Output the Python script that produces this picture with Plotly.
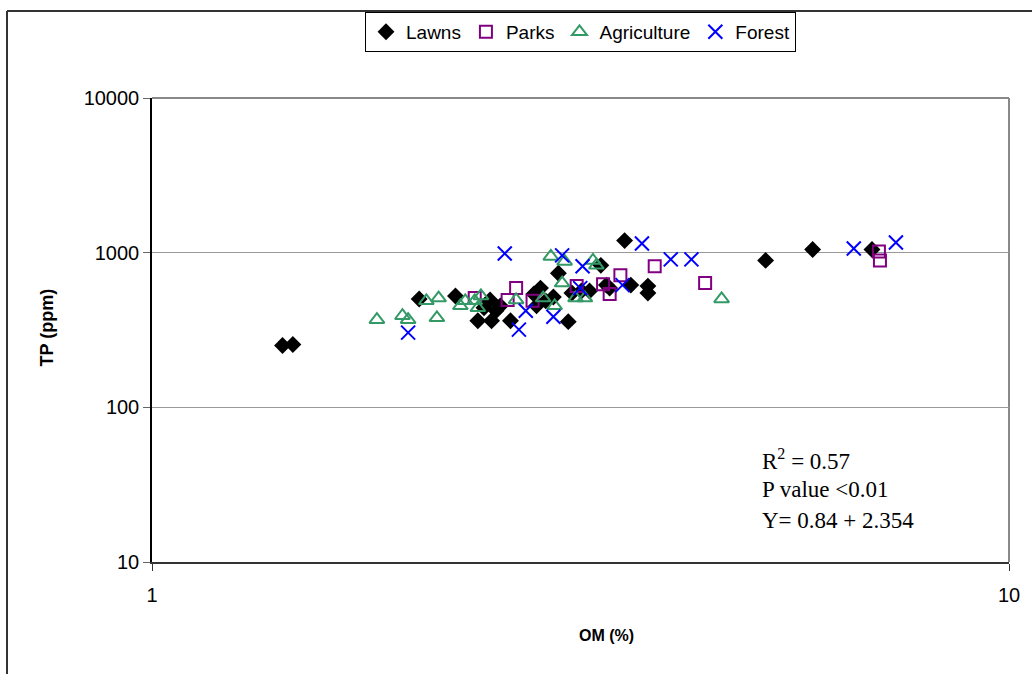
import plotly.graph_objects as go

# ---- data (OM %, TP ppm) ----
lawns_om = [1.42, 1.46, 2.05, 2.26, 2.40, 2.44, 2.48, 2.49, 2.52, 2.55, 2.62, 2.79, 2.84, 2.81,
            2.88, 2.94, 2.98, 3.06, 3.09, 3.17, 3.24, 3.34, 3.39, 3.42, 3.56, 3.62, 3.79, 3.79,
            5.20, 5.90, 6.92]
lawns_tp = [251, 255, 502, 525, 363, 440, 495, 363, 421, 453, 363, 540, 590, 453,
            488, 517, 736, 358, 548, 565, 565, 828, 617, 590, 1197, 617, 608, 548,
            891, 1048, 1048]

parks_om = [2.38, 2.66, 2.60, 2.78, 3.13, 3.36, 3.42, 3.52, 3.86, 4.42, 7.05, 7.07]
parks_tp = [509, 590, 495, 488, 608, 626, 540, 715, 816, 636, 1018, 891]

agri_om = [1.83, 1.96, 1.99, 2.09, 2.16, 2.15, 2.29, 2.32, 2.38, 2.40, 2.42, 2.66, 2.86, 2.95,
           2.92, 3.03, 3.01, 3.12, 3.20, 3.27, 3.30, 4.62]
agri_tp = [369, 391, 369, 488, 509, 379, 453, 488, 488, 440, 525, 495, 509, 453,
           946, 878, 636, 509, 509, 891, 828, 502]

forest_om = [1.99, 2.58, 2.68, 2.73, 2.94, 3.01, 3.18, 3.16, 3.54, 3.73, 4.03, 4.26, 6.59, 7.38]
forest_tp = [304, 988, 318, 421, 385, 960, 816, 590, 617, 1145, 905, 905, 1064, 1162]

x_ticks = [1, 10]
y_ticks = [10, 100, 1000, 10000]
x_title = "<b>OM (%)</b>"
y_title = "<b>TP (ppm)</b>"
stats_lines = ["R<sup>2</sup> = 0.57", "P value &lt;0.01", "Y= 0.84 + 2.354"]

fig = go.Figure()
fig.add_trace(go.Scatter(x=lawns_om, y=lawns_tp, mode="markers", name="Lawns",
                         marker=dict(symbol="diamond", size=13, color="black",
                                     line=dict(width=0))))
fig.add_trace(go.Scatter(x=parks_om, y=parks_tp, mode="markers", name="Parks",
                         marker=dict(symbol="square-open", size=12, color="#800080",
                                     line=dict(width=2, color="#800080"))))
fig.add_trace(go.Scatter(x=agri_om, y=agri_tp, mode="markers", name="Agriculture",
                         marker=dict(symbol="triangle-up-open", size=13, color="#339966",
                                     line=dict(width=2, color="#339966"))))
fig.add_trace(go.Scatter(x=forest_om, y=forest_tp, mode="markers", name="Forest",
                         marker=dict(symbol="x-thin-open", size=14, color="#0000FF",
                                     line=dict(width=2, color="#0000FF"))))

L, R, T, B = 152, 1009, 93, 562
W, H = 1032, 674

def px_x(p):
    return (p - L) / (R - L)

def px_y(p):
    return (B - p) / (B - T)

fig.update_layout(
    width=W, height=H,
    margin=dict(l=L, r=W - R, t=T, b=H - B, pad=0),
    paper_bgcolor="white", plot_bgcolor="white",
    font=dict(family="Liberation Sans, Arial, sans-serif", size=20, color="black"),
    showlegend=True,
    legend=dict(orientation="h", x=0.5, xanchor="center", y=px_y(6), yanchor="top",
                bordercolor="black", borderwidth=1, bgcolor="white",
                font=dict(size=19), itemwidth=30, tracegroupgap=0),
    xaxis=dict(type="log", range=[0, 1], tickvals=x_ticks, ticktext=[str(v) for v in x_ticks],
               showgrid=False, zeroline=False, showline=True, linecolor="#333333", linewidth=2,
               ticks="outside", ticklen=7, tickcolor="#333333", ticklabelstandoff=7,
               tickfont=dict(size=20)),
    yaxis=dict(type="log", range=[1, 4], tickvals=y_ticks, ticktext=[str(v) for v in y_ticks],
               showgrid=True, gridcolor="#999999", gridwidth=1, zeroline=False,
               showline=True, linecolor="black", linewidth=1.5,
               ticks="outside", ticklen=7, tickcolor="#666666",
               tickfont=dict(size=20)),
)

# axis titles placed as annotations
fig.add_annotation(xref="paper", yref="paper", x=px_x(606), y=px_y(636),
                   xanchor="center", yanchor="middle", showarrow=False, text=x_title,
                   font=dict(size=16))
fig.add_annotation(xref="paper", yref="paper", x=px_x(47), y=px_y(325),
                   xanchor="center", yanchor="middle", showarrow=False, text=y_title,
                   textangle=-90, font=dict(size=18))

# plot-area border (top and right in gray)
fig.add_shape(type="line", xref="paper", yref="paper", x0=0, x1=1, y0=1, y1=1,
              line=dict(color="#888888", width=2), layer="below")
fig.add_shape(type="line", xref="paper", yref="paper", x0=1, x1=1, y0=0, y1=1,
              line=dict(color="#888888", width=2), layer="below")

# outer chart frame (left and top)
fig.add_shape(type="line", xref="paper", yref="paper", x0=px_x(7), x1=px_x(7),
              y0=px_y(H + 5), y1=px_y(5), line=dict(color="#333333", width=2))
fig.add_shape(type="line", xref="paper", yref="paper", x0=px_x(7), x1=px_x(W + 5),
              y0=px_y(5), y1=px_y(5), line=dict(color="#333333", width=2))

for i, line in enumerate(stats_lines):
    fig.add_annotation(xref="paper", yref="paper", x=px_x(760), y=px_y(458 + 31 * i),
                       xanchor="left", yanchor="middle", align="left", showarrow=False,
                       text=line,
                       font=dict(family="Liberation Serif, Times New Roman, serif", size=23,
                                 color="black"))

fig.write_html("out.html", config={"displayModeBar": False},
               post_script="document.body.style.margin='0px';")
